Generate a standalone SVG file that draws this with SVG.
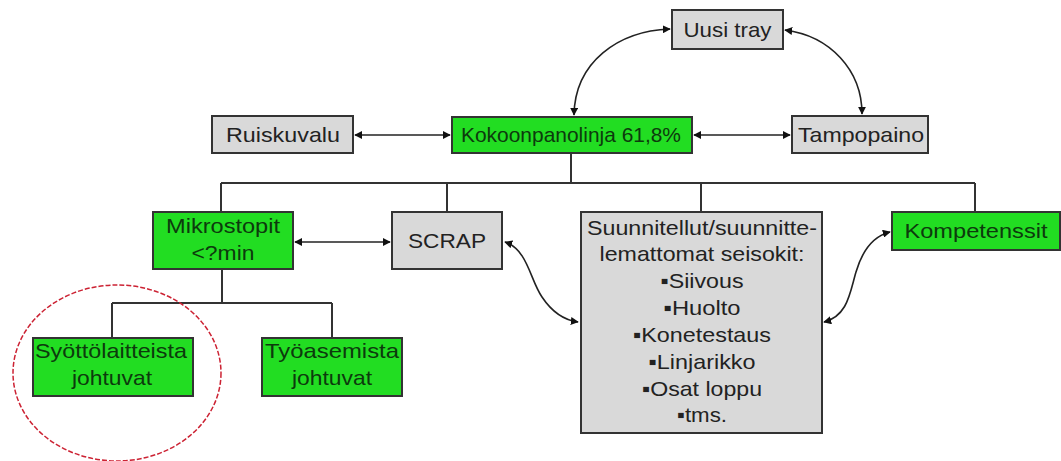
<svg xmlns="http://www.w3.org/2000/svg" width="1061" height="461" viewBox="0 0 1061 461">
  <style>
    .box { stroke: #333; stroke-width: 2; }
    .green { fill: #22dd22; }
    .gray { fill: #d9d9d9; }
    .lbl { font-family: "Liberation Sans", Arial, sans-serif; font-size: 21px; text-anchor: middle; fill: #222; }
    .glbl { fill: #0d3a0d; }
    .tree { fill: none; stroke: #333; stroke-width: 2; }
    .link { fill: none; stroke: #222; stroke-width: 1.6; marker-start: url(#head); marker-end: url(#head); }
  </style>
  <defs>
    <marker id="head" viewBox="0 0 10 10" refX="9" refY="5" markerWidth="8" markerHeight="8" markerUnits="userSpaceOnUse" orient="auto-start-reverse">
      <path d="M0,0 L10,5 L0,10 z" fill="#111"/>
    </marker>
  </defs>
  <rect width="1061" height="461" fill="#fff"/>

  <!-- tree lines and arrows -->
  <g id="connectors">
    <path class="tree" d="M571,153 V183 M221,183 H975 M221,183 V212 M447,183 V212 M701,183 V212 M975,183 V212"/>
    <path class="tree" d="M222,269 V303 M112,303 H332 M112,303 V338 M332,303 V338"/>
    <path class="link" d="M355,135 H450"/>
    <path class="link" d="M694,135 H790"/>
    <path class="link" d="M295,242 H390"/>
    <path class="link" d="M574,115 C575,62 618,31 670,29"/>
    <path class="link" d="M785,30 C830,36 862,70 862,114"/>
    <path class="link" d="M505,242 C528,250 530,280 542,297 C552,312 563,320 578,322"/>
    <path class="link" d="M824,322 C848,316 850,292 856,272 C863,248 874,236 890,232"/>
  </g>

  <g id="uusi-tray">
    <rect class="box gray" x="672" y="10" width="111" height="39"/>
    <text class="lbl" x="727.5" y="37" textLength="88" lengthAdjust="spacingAndGlyphs">Uusi tray</text>
  </g>
  <g id="ruiskuvalu">
    <rect class="box gray" x="212" y="116" width="141" height="37"/>
    <text class="lbl" x="283" y="142" textLength="114" lengthAdjust="spacingAndGlyphs">Ruiskuvalu</text>
  </g>
  <g id="kokoonpanolinja">
    <rect class="box green" x="452" y="117" width="240" height="36"/>
    <text class="lbl glbl" x="571" y="142" textLength="220" lengthAdjust="spacingAndGlyphs">Kokoonpanolinja 61,8%</text>
  </g>
  <g id="tampopaino">
    <rect class="box gray" x="792" y="116" width="136" height="37"/>
    <text class="lbl" x="861" y="142" textLength="126" lengthAdjust="spacingAndGlyphs">Tampopaino</text>
  </g>
  <g id="mikrostopit">
    <rect class="box green" x="153" y="212" width="140" height="57"/>
    <text class="lbl glbl" x="223" y="233" textLength="114" lengthAdjust="spacingAndGlyphs">Mikrostopit</text>
    <text class="lbl glbl" x="223" y="260" textLength="63" lengthAdjust="spacingAndGlyphs">&lt;?min</text>
  </g>
  <g id="scrap">
    <rect class="box gray" x="392" y="212" width="110" height="57"/>
    <text class="lbl" x="447" y="248" textLength="78" lengthAdjust="spacingAndGlyphs">SCRAP</text>
  </g>
  <g id="seisokit">
    <rect class="box gray" x="581" y="212" width="241" height="221"/>
    <text class="lbl" x="702" y="235" textLength="230" lengthAdjust="spacingAndGlyphs">Suunnitellut/suunnitte-</text>
    <text class="lbl" x="702" y="261" textLength="205" lengthAdjust="spacingAndGlyphs">lemattomat seisokit:</text>
    <text class="lbl" x="702" y="288" textLength="83" lengthAdjust="spacingAndGlyphs">▪Siivous</text>
    <text class="lbl" x="702" y="315" textLength="77" lengthAdjust="spacingAndGlyphs">▪Huolto</text>
    <text class="lbl" x="702" y="342" textLength="138" lengthAdjust="spacingAndGlyphs">▪Konetestaus</text>
    <text class="lbl" x="702" y="369" textLength="107" lengthAdjust="spacingAndGlyphs">▪Linjarikko</text>
    <text class="lbl" x="702" y="396" textLength="120" lengthAdjust="spacingAndGlyphs">▪Osat loppu</text>
    <text class="lbl" x="702" y="422" textLength="50" lengthAdjust="spacingAndGlyphs">▪tms.</text>
  </g>
  <g id="kompetenssit">
    <rect class="box green" x="892" y="212" width="168" height="38"/>
    <text class="lbl glbl" x="976" y="238" textLength="143" lengthAdjust="spacingAndGlyphs">Kompetenssit</text>
  </g>
  <g id="syottolaitteista">
    <rect class="box green" x="33" y="338" width="160" height="58"/>
    <text class="lbl glbl" x="111" y="358" textLength="152" lengthAdjust="spacingAndGlyphs">Syöttölaitteista</text>
    <text class="lbl glbl" x="112" y="385" textLength="80" lengthAdjust="spacingAndGlyphs">johtuvat</text>
  </g>
  <g id="tyoasemista">
    <rect class="box green" x="262" y="338" width="140" height="58"/>
    <text class="lbl glbl" x="332" y="358" textLength="134" lengthAdjust="spacingAndGlyphs">Työasemista</text>
    <text class="lbl glbl" x="332" y="385" textLength="80" lengthAdjust="spacingAndGlyphs">johtuvat</text>
  </g>

  <!-- highlight ring -->
  <ellipse id="highlight" cx="117" cy="373" rx="104" ry="88" fill="none" stroke="#cc2233" stroke-width="1.5" stroke-dasharray="5 2"/>
</svg>
